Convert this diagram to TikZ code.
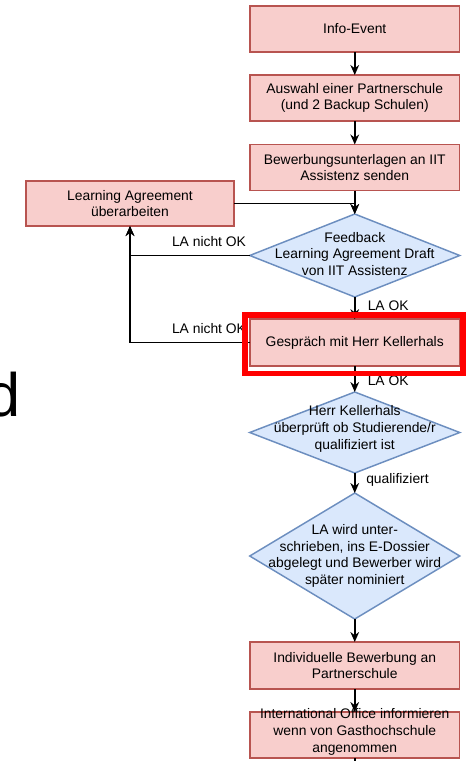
\documentclass[tikz,border=0pt]{standalone}
\usepackage{fontspec}
\setmainfont{Liberation Sans}
\usetikzlibrary{shapes.geometric,arrows.meta}
\definecolor{boxfill}{HTML}{F8CECC}
\definecolor{boxdraw}{HTML}{B85450}
\definecolor{dfill}{HTML}{DAE8FC}
\definecolor{ddraw}{HTML}{6C8EBF}
\newcommand{\ftxt}{\fontsize{10.4}{12.6}\selectfont}
\begin{document}
\begin{tikzpicture}[x=0.75pt,y=-0.75pt,
  procbox/.style={rectangle, draw=boxdraw, fill=boxfill, line width=1.1pt,
    minimum width=157pt, minimum height=34.5pt, inner sep=0pt, outer sep=0pt,
    align=center, font=\ftxt},
  decbox/.style={diamond, draw=ddraw, fill=dfill, line width=1.1pt,
    minimum width=157.5pt, inner sep=0pt, outer sep=0pt},
  dtext/.style={inner sep=0pt, align=center, font=\ftxt},
  lbl/.style={inner sep=0pt, font=\ftxt},
  conn/.style={line width=1.3pt, -{Stealth[length=7.5pt,width=6.5pt]}},
  plain/.style={line width=1.3pt}
]
\useasboundingbox (0,0) rectangle (467,761);

% big partial letter at left
\node (bigd) [anchor=base east, inner sep=0pt, font=\fontsize{46}{50}\selectfont] at (20.8,416) {d};

% process boxes
\node (info) [procbox] at (354.75,29) {Info-Event};
\node (ausw) [procbox] at (354.75,98) {Auswahl einer Partnerschule\\(und 2 Backup Schulen)};
\node (bew)  [procbox] at (354.75,167.5) {Bewerbungsunterlagen an IIT\\Assistenz senden};
\node (la)   [procbox, minimum width=156pt, minimum height=33.75pt] at (130,203.5) {Learning Agreement\\überarbeiten};
\node (ges)  [procbox, minimum height=35pt] at (354.75,342.5) {Gespräch mit Herr Kellerhals};
\node (ind)  [procbox, minimum height=35.25pt] at (354.75,665.5) {Individuelle Bewerbung an\\Partnerschule};
\node (intl) [procbox] at (354.75,735) {};
\node (intlt) [dtext] at (354.75,732) {International Office informieren\\wenn von Gasthochschule\\angenommen};

% decisions
\node (fb) [decbox, minimum height=62.25pt] at (354.75,255.5) {};
\node (fbt) [dtext] at (354.75,254) {Feedback\\Learning Agreement Draft\\von IIT Assistenz};
\node (hk) [decbox, minimum height=60.75pt] at (354.75,432.5) {};
\node (hkt) [dtext] at (354.75,429) {Herr Kellerhals\\überprüft ob Studierende/r\\qualifiziert ist};
\node (sig) [decbox, minimum height=94.5pt] at (354.75,556) {};
\node (sigt) [dtext] at (354.75,556) {LA wird unter-\\schrieben, ins E-Dossier\\abgelegt und Bewerber wird\\später nominiert};

\coordinate (tail) at (354.75,790);

% connectors
\draw[conn] (info.south) -- (ausw.north);
\draw[conn] (ausw.south) -- (bew.north);
\draw[conn] (bew.south) -- (fb.north);
\draw[conn] (la.east) -| (fb.north);
\draw[conn] (fb.west) -| (la.south);
\draw[conn] (ges.west) -| (la.south);
\draw[conn] (fb.south) -- (ges.north);
\draw[conn] (ges.south) -- (hk.north);
\draw[conn] (hk.south) -- (sig.north);
\draw[conn] (sig.south) -- (ind.north);
\draw[conn] (ind.south) -- (intl.north);
\draw[plain] (intl.south) -- (tail);

% labels
\node (l1) [lbl] at (209,242) {LA nicht OK};
\node (l2) [lbl] at (209,329) {LA nicht OK};
\node (l3) [lbl, anchor=west] at (367.5,306) {LA OK};
\node (l4) [lbl, anchor=west] at (367.5,381) {LA OK};
\node (l5) [lbl, anchor=west] at (366,480) {qualifiziert};

% highlight
\node (hl) [draw=red, line width=4pt, inner sep=0pt, minimum width=163.5pt, minimum height=43.9pt] at (354,344.25) {};
\end{tikzpicture}
\end{document}
